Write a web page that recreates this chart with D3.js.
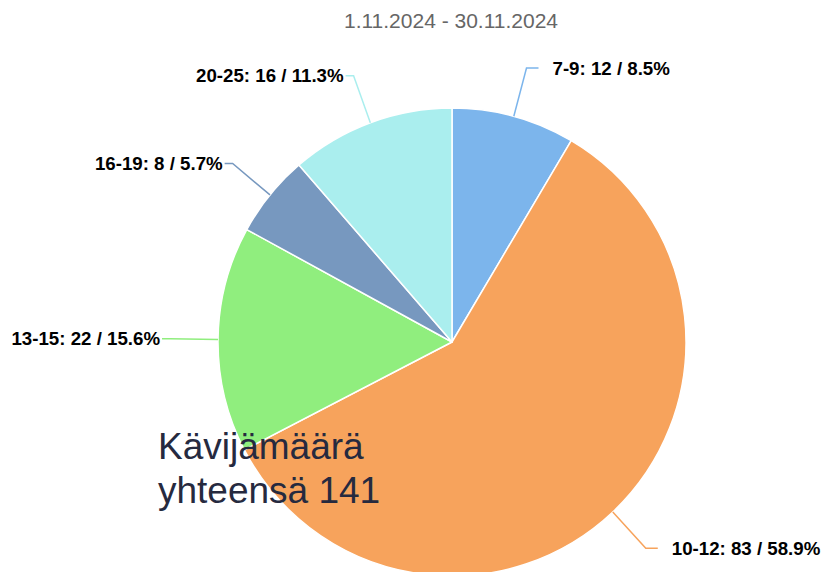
<!DOCTYPE html>
<html lang="fi">
<head>
    <meta charset="UTF-8">
    <script src="https://d3js.org/d3.v7.min.js"></script>
    <style>
        body { margin: 0; background: #fff; font-family: "Liberation Sans", Arial, sans-serif; }
    </style>
</head>
<body>
    <svg width="825" height="572"></svg>
    <script>
        // kävijämäärät ikäryhmittäin
        const groups = ["7-9", "10-12", "13-15", "16-19", "20-25"];
        const counts = [12, 83, 22, 8, 16];
        const colors = ["#7cb5ec", "#f7a35c", "#90ee7e", "#7798bf", "#aaeeee"];
        const subtitle = "1.11.2024 - 30.11.2024";
        const totalLines = ["Kävijämäärä", "yhteensä 141"];

        let svg = d3.select("svg"),
            cx = 452, cy = 342, r = 234;

        let total = d3.sum(counts);
        let data = groups.map((g, i) => ({ group: g, value: counts[i], color: colors[i] }));

        let pie = d3.pie().value(d => d.value).sort(null);
        let arc = d3.arc().innerRadius(0).outerRadius(r);
        let arcs = pie(data);

        svg.append("text")
            .attr("x", 451).attr("y", 28)
            .attr("text-anchor", "middle")
            .attr("font-size", "21px")
            .attr("fill", "#666")
            .text(subtitle);

        let g = svg.append("g").attr("transform", `translate(${cx},${cy})`);

        g.selectAll("path.slice")
            .data(arcs)
            .enter().append("path")
            .attr("class", "slice")
            .attr("d", arc)
            .attr("fill", d => d.data.color)
            .attr("stroke", "#fff")
            .attr("stroke-width", 1.5)
            .attr("stroke-linejoin", "round");

        // connectors + labels
        arcs.forEach(d => {
            let a = (d.startAngle + d.endAngle) / 2;
            let sx = r * Math.sin(a), sy = -r * Math.cos(a);
            let ex = (r + 48) * Math.sin(a), ey = -(r + 50) * Math.cos(a);
            let right = ex > 0;
            let hx = ex + (right ? 12 : -8);
            g.append("path")
                .attr("d", `M${sx},${sy}L${ex},${ey}L${hx},${ey}`)
                .attr("fill", "none")
                .attr("stroke", d.data.color)
                .attr("stroke-width", 1.5);
            let pct = (d.data.value / total * 100).toFixed(1);
            g.append("text")
                .attr("x", right ? ex + 26 : ex - 10)
                .attr("y", ey)
                .attr("dy", "0.35em")
                .attr("text-anchor", right ? "start" : "end")
                .attr("font-size", "18.7px")
                .attr("font-weight", "bold")
                .attr("fill", "#000")
                .text(`${d.data.group}: ${d.data.value} / ${pct}%`);
        });

        svg.append("text")
            .attr("x", 158).attr("y", 459)
            .attr("font-size", "37px")
            .attr("fill", "#262a3f")
            .selectAll("tspan")
            .data(totalLines)
            .enter().append("tspan")
            .attr("x", 158)
            .attr("dy", (d, i) => i === 0 ? 0 : 44)
            .text(d => d);
    </script>
</body>
</html>
